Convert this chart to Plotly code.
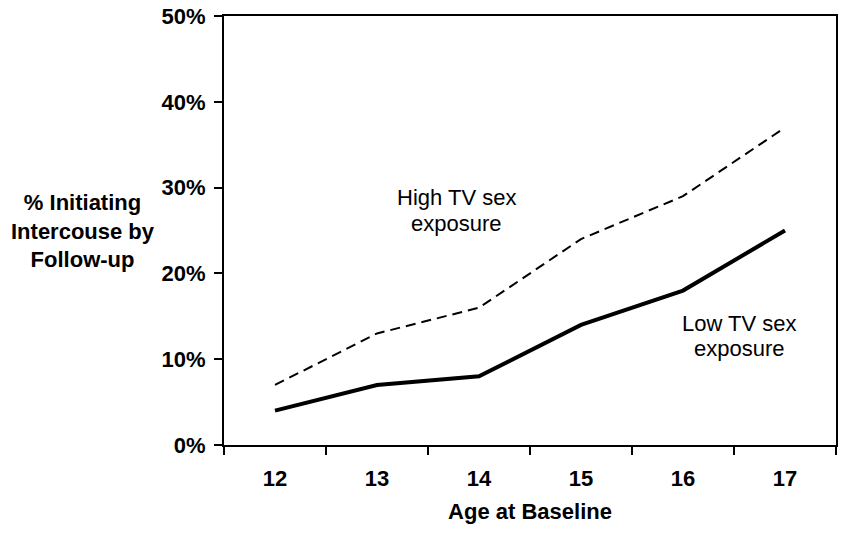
import plotly.graph_objects as go

ages = ["12", "13", "14", "15", "16", "17"]
high_tv = [7, 13, 16, 24, 29, 37]
low_tv = [4, 7, 8, 14, 18, 25]
y_ticks = [0, 10, 20, 30, 40, 50]
y_tick_labels = ["0%", "10%", "20%", "30%", "40%", "50%"]

FONT = "Liberation Sans, Arial, Helvetica, sans-serif"

fig = go.Figure()
fig.add_trace(go.Scatter(x=ages, y=high_tv, mode="lines",
                         line=dict(color="black", width=2, dash="10px,6px"),
                         hoverinfo="skip", showlegend=False))
fig.add_trace(go.Scatter(x=ages, y=low_tv, mode="lines",
                         line=dict(color="black", width=4),
                         hoverinfo="skip", showlegend=False))

fig.update_layout(
    width=842, height=533,
    margin=dict(l=224, r=4, t=16, b=88),
    paper_bgcolor="white", plot_bgcolor="white",
    font=dict(family=FONT, color="black"),
    showlegend=False,
    xaxis=dict(
        type="category", range=[-0.5, 5.5],
        tickson="boundaries", ticks="outside", ticklen=8, tickwidth=2, tickcolor="black",
        showline=True, linewidth=2, linecolor="black", mirror=True,
        showgrid=False, zeroline=False, ticklabelstandoff=13,
        tickfont=dict(family=FONT, size=22, color="black", weight="bold"),
        title=dict(text="<b>Age at Baseline</b>", font=dict(family=FONT, size=22, color="black"),
                   standoff=13),
    ),
    yaxis=dict(
        range=[0, 50], tickvals=y_ticks, ticktext=y_tick_labels,
        ticks="outside", ticklen=8, tickwidth=2, tickcolor="black",
        showline=True, linewidth=2, linecolor="black", mirror=True,
        showgrid=False, zeroline=False, ticklabelstandoff=4,
        tickfont=dict(family=FONT, size=22, color="black", weight="bold"),
    ),
    annotations=[
        dict(text="<b>% Initiating<br>Intercouse by<br>Follow-up</b>", xref="paper", yref="paper",
             x=(83 - 224) / 614, y=(445 - 231) / 429, xanchor="center", yanchor="middle",
             showarrow=False, align="center", font=dict(family=FONT, size=22, color="black")),
        dict(text="High TV sex", xref="paper", yref="paper",
             x=(457 - 224) / 614, y=(445 - 197) / 429, xanchor="center", yanchor="middle",
             showarrow=False, font=dict(family=FONT, size=22, color="black")),
        dict(text="exposure", xref="paper", yref="paper",
             x=(457 - 224) / 614, y=(445 - 223) / 429, xanchor="center", yanchor="middle",
             showarrow=False, font=dict(family=FONT, size=22, color="black")),
        dict(text="Low TV sex", xref="paper", yref="paper",
             x=(741 - 224) / 614, y=(445 - 323) / 429, xanchor="center", yanchor="middle",
             showarrow=False, font=dict(family=FONT, size=22, color="black")),
        dict(text="exposure", xref="paper", yref="paper",
             x=(741 - 224) / 614, y=(445 - 348) / 429, xanchor="center", yanchor="middle",
             showarrow=False, font=dict(family=FONT, size=22, color="black")),
    ],
)

fig.write_html("out.html", config={"displayModeBar": False},
               post_script="document.body.style.margin='0';document.body.style.padding='0';")
